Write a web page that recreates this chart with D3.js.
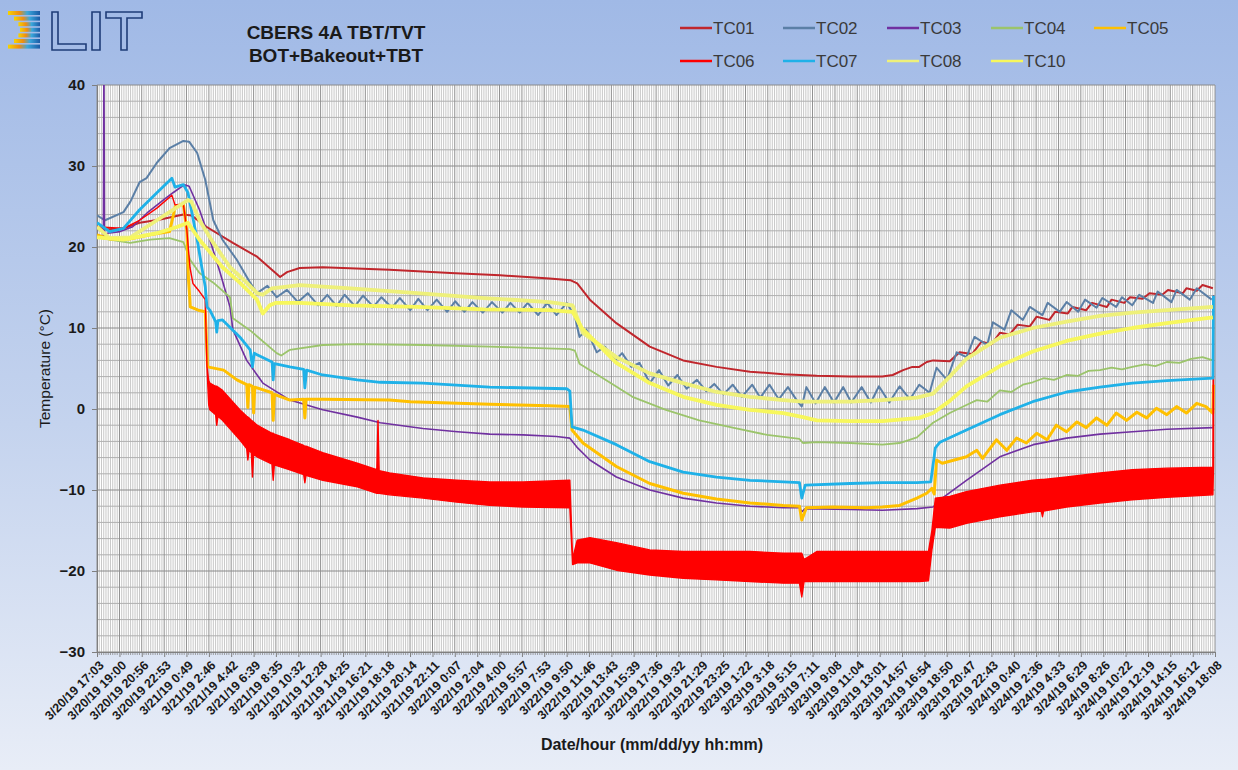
<!DOCTYPE html>
<html>
<head>
<meta charset="utf-8">
<script src="https://cdn.jsdelivr.net/npm/d3@7"></script>
<style>
body{margin:0;background:#fff;}
svg text{font-family:"Liberation Sans",Arial,sans-serif;}
</style>
</head>
<body>
<div id="chart"></div>
<script>
// category axis labels (as printed under the chart)
var tickLabels = ["3/20/19 17:03","3/20/19 19:00","3/20/19 20:56","3/20/19 22:53",
  "3/21/19 0:49","3/21/19 2:46","3/21/19 4:42","3/21/19 6:39","3/21/19 8:35","3/21/19 10:32",
  "3/21/19 12:28","3/21/19 14:25","3/21/19 16:21","3/21/19 18:18","3/21/19 20:14","3/21/19 22:11",
  "3/22/19 0:07","3/22/19 2:04","3/22/19 4:00","3/22/19 5:57","3/22/19 7:53","3/22/19 9:50",
  "3/22/19 11:46","3/22/19 13:43","3/22/19 15:39","3/22/19 17:36","3/22/19 19:32","3/22/19 21:29",
  "3/22/19 23:25","3/23/19 1:22","3/23/19 3:18","3/23/19 5:15","3/23/19 7:11","3/23/19 9:08",
  "3/23/19 11:04","3/23/19 13:01","3/23/19 14:57","3/23/19 16:54","3/23/19 18:50","3/23/19 20:47",
  "3/23/19 22:43","3/24/19 0:40","3/24/19 2:36","3/24/19 4:33","3/24/19 6:29","3/24/19 8:26",
  "3/24/19 10:22","3/24/19 12:19","3/24/19 14:15","3/24/19 16:12","3/24/19 18:08"];

var yTicks = [-30,-20,-10,0,10,20,30,40];
var seriesNames = ["TC01","TC02","TC03","TC04","TC05","TC06","TC07","TC08","TC10"];

// readings: [hours since 3/20/19 17:03, temperature in C]
var tc01 = [[0,22.4],[0.9,22.2],[2.3,22.3],[3.7,23.0],[5.5,23.4],[7.5,24.0],[8.2,23.9],[9.5,22.5],[11.8,20.5],
  [13.9,18.8],[15.9,16.3],[16.5,16.9],[17.6,17.4],[19.6,17.5],[25.4,17.2],[30.7,16.8],[35.0,16.5],[39.3,16.1],
  [41.1,15.9],[41.7,15.5],[42.8,13.5],[45.1,10.6],[48.0,7.7],[50.9,6.0],[53.8,5.2],[56.7,4.6],[59.6,4.3],
  [62.5,4.1],[65.4,4.0],[68.2,4.0],[69.1,4.2],[70.0,4.8],[70.8,5.2],[71.4,5.2],[72.05,5.8],[72.6,6.0],
  [74.05,5.9],[74.9,7.0],[76.0,6.8],[76.8,8.3],[77.7,8.0],[78.4,9.4],[79.25,9.2],[79.95,10.4],[81.0,10.2],
  [81.6,11.4],[82.7,11.0],[83.2,12.0],[84.3,11.8],[84.7,12.6],[85.9,12.2],[86.4,13.1],[87.7,12.6],[88.1,13.5],
  [89.2,13.1],[89.7,13.8],[90.8,13.6],[91.4,14.3],[92.5,14.1],[93.0,14.7],[94.3,14.3],[94.6,14.9],[95.5,14.6],
  [96.0,15.3],[96.9,14.9]];

var tc02 = [[0,23.9],[0.7,23.3],[2.3,24.3],[2.9,25.6],[3.7,28.0],[4.3,28.5],[5.2,30.4],[6.3,32.2],[7.5,33.1],
  [8.0,33.0],[8.7,31.6],[9.4,28.3],[10.1,23.3],[10.9,20.9],[12.15,18.4],[13.3,15.6],[13.9,14.3],[14.8,15.2],
  [15.6,13.8],[16.5,14.7],[17.45,13.2],[18.3,14.3],[19.2,12.8],[20.0,14.1],[20.8,12.7],[21.5,14.1],[22.4,12.7],
  [23.1,14.0],[24.0,12.6],[24.7,13.8],[25.6,12.5],[26.3,13.7],[27.2,12.2],[27.9,13.6],[28.7,12.2],[29.5,13.5],
  [30.4,12.0],[31.1,13.3],[31.9,12.0],[32.6,13.2],[33.5,11.9],[34.3,13.2],[35.2,11.9],[35.9,13.1],[36.7,11.9],
  [37.4,13.1],[38.3,11.6],[39.1,13.1],[39.9,11.6],[40.8,13.1],[41.5,11.4],[41.9,8.9],[42.5,9.8],[43.4,7.0],
  [44.1,7.7],[45.0,6.0],[45.6,6.9],[46.4,5.2],[47.1,5.7],[48.0,3.2],[48.8,4.8],[49.6,2.9],[50.4,4.2],[51.2,2.5],
  [52.1,3.6],[52.9,2.2],[53.6,3.1],[54.4,1.8],[55.2,3.0],[56.0,1.5],[56.9,3.0],[57.6,1.4],[58.4,3.0],[59.2,1.2],
  [60.0,2.7],[60.8,1.0],[61.2,0.3],[61.6,2.7],[62.4,0.7],[63.2,2.7],[64.0,0.8],[64.8,2.7],[65.5,0.8],[66.4,2.7],
  [67.2,0.8],[67.9,2.8],[68.8,0.8],[69.7,2.8],[70.6,1.2],[71.4,3.0],[72.3,2.0],[72.9,5.1],[73.8,3.6],[74.65,7.0],
  [75.5,6.4],[76.2,8.9],[77.3,7.9],[77.8,10.7],[78.8,9.8],[79.4,12.2],[80.4,11.0],[81.0,12.6],[82.1,11.6],
  [82.55,13.1],[83.6,12.0],[84.2,13.2],[85.2,12.0],[85.8,13.5],[86.8,12.5],[87.3,13.7],[88.5,12.6],[89.0,13.8],
  [89.9,12.8],[90.5,14.1],[91.7,13.1],[92.1,14.5],[93.3,13.2],[93.75,14.7],[94.9,13.5],[95.5,14.9],[96.8,13.5]];

var tc03 = [[0,21.5],[0.55,21.3],[0.6,45],[0.65,21.2],[0.9,21.7],[2.0,21.9],[3.1,22.5],[4.35,24.2],[5.75,25.8],
  [6.6,26.7],[7.6,27.7],[8.0,27.5],[8.9,24.6],[9.8,20.9],[10.7,16.8],[11.55,12.6],[11.8,9.8],[13.0,6.0],
  [14.4,3.2],[16.75,1.1],[19.6,-0.1],[22.6,-1.0],[24.6,-1.7],[28.3,-2.4],[31.3,-2.8],[34.1,-3.1],[37.0,-3.2],
  [39.9,-3.4],[41.06,-3.6],[41.67,-4.7],[42.8,-6.3],[45.1,-8.4],[48.0,-10.0],[50.9,-11.0],[53.8,-11.6],
  [56.7,-12.0],[59.6,-12.2],[61.0,-12.2],[61.2,-12.7],[61.5,-12.3],[65.4,-12.4],[68.2,-12.5],[71.2,-12.3],
  [72.6,-12.1],[73.4,-11.0],[75.5,-8.8],[78.4,-5.9],[81.3,-4.4],[84.2,-3.6],[87.1,-3.1],[89.9,-2.8],
  [92.9,-2.5],[96.9,-2.3]];

var tc04 = [[0,21.2],[1.1,20.9],[2.9,20.5],[4.6,20.9],[6.3,21.1],[7.5,20.6],[8.1,18.4],[8.9,16.8],[10.1,15.6],
  [11.55,13.8],[11.8,11.2],[13.3,9.7],[15.6,6.9],[16.0,6.6],[16.75,7.3],[19.6,7.9],[22.6,8.0],[28.3,7.9],
  [34.1,7.7],[41.06,7.4],[41.5,7.2],[41.9,5.6],[43.7,4.0],[46.5,1.5],[49.4,-0.1],[52.3,-1.4],[55.2,-2.3],
  [58.2,-3.2],[61.0,-3.7],[61.3,-4.2],[62.5,-4.1],[65.4,-4.2],[68.2,-4.4],[69.7,-4.2],[71.2,-3.5],[72.6,-1.7],
  [74.05,-0.5],[75.5,0.5],[76.4,1.1],[77.3,0.9],[78.4,2.3],[79.4,2.1],[80.4,3.0],[81.25,3.3],[82.2,3.8],
  [83.1,3.6],[84.2,4.2],[85.2,4.1],[86.1,4.7],[87.1,4.8],[88.1,5.1],[89.0,4.9],[89.9,5.2],[91.0,5.5],
  [91.9,5.3],[92.9,5.8],[94.0,5.7],[95.0,6.2],[96.0,6.4],[96.9,6.0]];

var tc05 = [[0,21.5],[1.1,21.0],[2.9,21.0],[4.6,21.5],[6.3,21.9],[6.8,25.0],[7.5,25.3],[7.8,22.0],[7.95,15.9],
  [8.1,12.6],[8.8,12.2],[9.4,12.0],[9.6,5.2],[11.0,4.8],[12.15,3.6],[13.0,3.0],[13.1,0.2],[13.2,3.0],[13.5,2.8],
  [13.6,-0.5],[13.7,2.7],[15.2,2.0],[15.3,-1.4],[15.4,1.8],[16.75,1.1],[17.95,1.2],[18.05,-1.1],[18.15,1.2],
  [19.6,1.2],[25.4,1.1],[27.2,0.9],[34.1,0.6],[39.3,0.4],[41.06,0.3],[41.25,-2.6],[42.2,-4.2],[45.1,-7.1],
  [48.0,-9.2],[50.9,-10.4],[53.8,-11.1],[56.7,-11.6],[59.6,-11.9],[61.0,-12.0],[61.2,-13.7],[61.6,-12.2],
  [63.9,-12.1],[66.8,-12.2],[68.2,-12.1],[69.7,-11.9],[71.2,-11.0],[72.05,-10.4],[72.5,-9.8],[72.7,-10.5],
  [72.9,-6.3],[73.4,-6.7],[75.5,-5.9],[76.4,-5.1],[76.9,-6.1],[78.1,-3.8],[79.0,-5.1],[79.85,-3.6],[80.7,-4.2],
  [81.6,-3.0],[82.5,-3.8],[83.3,-2.0],[84.2,-2.8],[85.1,-1.6],[85.9,-2.3],[86.8,-1.1],[87.7,-2.0],[88.5,-0.5],
  [89.4,-1.4],[90.3,-0.4],[91.15,-1.1],[92.0,0.1],[92.9,-0.7],[93.75,0.3],[94.6,-0.5],[95.5,0.7],[96.3,0.3],
  [96.9,-0.5],[96.95,3.0]];

// TC06 oscillates too fast to read point by point: [hours, band low, band high]
var tc06Band = [[0,22.5,22.5],[2.3,22.3,22.3],[3.7,23.3,23.3],[5.2,24.8,24.8],[6.5,26.4,26.4],[6.77,25.2,25.2],
  [7.5,25.3,25.3],[7.8,22.1,22.1],[8.07,17.5,17.5],[8.33,15.5,15.5],[8.9,14.5,14.5],[9.4,13.5,13.5],
  [9.55,5.2,5.2],[9.7,0.5,3.5],[9.8,-0.1,3.2],[10.3,-0.7,2.8],[10.4,-2.0,2.8],[10.5,-0.9,2.7],[10.9,-1.4,2.3],
  [12.4,-3.8,-0.1],[13.0,-4.9,-0.9],[13.1,-6.3,-1.0],[13.2,-5.1,-1.1],[13.4,-5.4,-1.4],[13.5,-8.4,-1.5],
  [13.6,-5.6,-1.6],[13.9,-5.9,-2.0],[15.2,-6.8,-3.0],[15.3,-8.8,-3.0],[15.4,-6.9,-3.1],[16.75,-7.5,-3.8],
  [17.95,-8.1,-4.5],[18.05,-9.1,-4.6],[18.15,-8.2,-4.6],[19.6,-8.8,-5.4],[22.6,-9.6,-6.7],[24.3,-10.4,-7.5],
  [24.4,-10.4,-1.4],[24.5,-10.4,-7.6],[25.4,-10.6,-7.9],[28.3,-11.0,-8.5],[31.25,-11.5,-8.8],[34.1,-11.9,-9.0],
  [37.0,-12.1,-9.0],[41.06,-12.2,-8.8],[41.3,-19.2,-18.5],[41.7,-19.0,-16.2],[42.8,-19.0,-15.9],
  [45.1,-19.9,-16.5],[48.0,-20.5,-17.4],[50.9,-20.9,-17.6],[53.8,-21.1,-17.6],[56.7,-21.3,-17.6],
  [59.6,-21.5,-17.8],[61.0,-21.5,-17.8],[61.2,-23.2,-17.8],[61.4,-21.3,-18.6],[62.5,-21.3,-17.6],
  [65.4,-21.3,-17.6],[68.2,-21.3,-17.6],[71.4,-21.3,-17.6],[72.2,-21.2,-17.6],[72.5,-17.4,-15.0],
  [72.8,-14.6,-11.0],[74.05,-14.7,-10.8],[75.5,-14.1,-10.2],[78.4,-13.3,-9.4],[81.25,-12.7,-8.8],
  [82.0,-12.6,-8.7],[82.1,-13.3,-8.7],[82.2,-12.6,-8.7],[84.2,-12.1,-8.4],[87.1,-11.6,-7.9],[89.9,-11.2,-7.5],
  [92.9,-10.9,-7.3],[96.9,-10.6,-7.2],[96.95,-7.2,14.0]];

var tc07 = [[0,23.0],[1.1,21.9],[2.3,22.3],[3.7,24.6],[5.2,26.7],[6.5,28.5],[6.77,27.4],[7.5,27.7],[7.9,26.7],
  [8.7,20.9],[9.1,17.5],[9.4,15.1],[9.55,12.6],[9.8,12.2],[10.3,10.8],[10.4,9.5],[10.5,10.9],[10.9,11.0],
  [12.4,8.9],[13.3,7.3],[13.5,5.2],[13.65,6.9],[13.9,6.7],[15.2,5.8],[15.3,3.6],[15.4,5.6],[16.75,5.2],
  [17.95,4.9],[18.05,2.6],[18.2,4.8],[19.6,4.2],[22.6,3.6],[24.6,3.3],[28.3,3.2],[34.1,2.7],[40.8,2.5],
  [41.06,2.2],[41.25,-2.2],[42.2,-2.6],[45.1,-4.4],[48.0,-6.5],[50.9,-7.8],[53.8,-8.4],[56.7,-8.8],[59.6,-9.0],
  [61.0,-9.1],[61.2,-11.0],[61.5,-9.4],[65.4,-9.2],[68.2,-9.1],[71.2,-9.1],[72.4,-9.0],[72.8,-4.8],[73.2,-4.1],
  [75.5,-2.6],[78.4,-0.7],[81.25,0.9],[84.2,2.1],[87.1,2.7],[89.9,3.2],[92.9,3.5],[96.9,3.8],[96.95,14.0]];

var tc08 = [[0,22.5],[1.1,21.1],[2.9,21.2],[5.2,23.3],[6.5,24.5],[7.9,25.8],[8.2,25.6],[8.9,23.3],[10.1,20.5],
  [11.55,17.5],[13.0,15.6],[13.9,14.3],[14.4,14.1],[15.2,14.9],[17.6,15.3],[22.0,14.9],[27.8,14.3],[33.6,13.7],
  [39.3,13.2],[41.3,12.8],[42.2,9.4],[45.1,6.4],[48.0,4.4],[50.9,3.2],[53.8,2.1],[56.7,1.5],[59.6,1.1],
  [61.3,0.9],[65.4,0.9],[68.2,1.1],[71.2,1.4],[72.6,1.9],[74.05,4.0],[75.5,6.2],[78.4,8.8],[81.25,10.0],
  [84.2,10.8],[87.1,11.5],[89.9,11.9],[92.9,12.2],[96.9,12.6]];

var tc10 = [[0,21.2],[2.3,20.9],[5.2,21.7],[7.0,22.5],[7.9,23.0],[8.9,20.9],[10.9,17.5],[12.4,15.6],[13.9,13.5],
  [14.4,11.8],[15.0,12.8],[15.5,13.1],[17.6,13.1],[22.0,12.8],[27.8,12.6],[33.6,12.3],[39.3,12.2],[41.3,12.0],
  [42.1,10.0],[45.1,5.7],[48.0,3.2],[50.9,1.5],[53.8,0.5],[56.7,-0.1],[59.6,-0.5],[61.3,-1.0],[62.5,-1.4],
  [65.4,-1.5],[68.2,-1.5],[71.4,-1.1],[72.6,-0.5],[74.05,1.0],[75.5,2.8],[78.4,5.3],[81.25,7.1],[84.2,8.4],
  [87.1,9.3],[89.9,10.0],[92.9,10.6],[96.9,11.3]];

var W = 1238, H = 770;
var plotL = 97, plotR = 1215, plotT = 85, plotB = 652;

var parse = d3.timeParse("%m/%d/%y %H:%M");
var t0 = parse(tickLabels[0]);
var tickHours = tickLabels.map(function (s) {return (parse(s) - t0) / 3600000;});

var x = d3.scaleLinear().domain([0, tickHours[tickHours.length - 1]]).range([plotL, plotR]);
var y = d3.scaleLinear().domain([-30, 40]).range([plotB, plotT]);

var svg = d3.select("#chart").append("svg")
    .attr("width", W)
    .attr("height", H);

var defs = svg.append("defs");
var bg = defs.append("linearGradient").attr("id", "bg")
    .attr("x1", 0).attr("y1", 0).attr("x2", 0).attr("y2", 1);
bg.append("stop").attr("offset", "0").attr("stop-color", "#a0b9e6");
bg.append("stop").attr("offset", "0.55").attr("stop-color", "#c4d3ee");
bg.append("stop").attr("offset", "1").attr("stop-color", "#e8edf7");

var logoGrad = defs.append("linearGradient").attr("id", "logoGrad")
    .attr("x1", 0).attr("y1", 0).attr("x2", 1).attr("y2", 0);
logoGrad.append("stop").attr("offset", "0").attr("stop-color", "#f6d400");
logoGrad.append("stop").attr("offset", "0.35").attr("stop-color", "#f08c10");
logoGrad.append("stop").attr("offset", "0.6").attr("stop-color", "#3aa8dc");
logoGrad.append("stop").attr("offset", "1").attr("stop-color", "#1b5aa6");

defs.append("clipPath").attr("id", "plotClip")
    .append("rect")
    .attr("x", plotL).attr("y", plotT)
    .attr("width", plotR - plotL).attr("height", plotB - plotT);

svg.append("rect").attr("width", W).attr("height", H).attr("fill", "url(#bg)");

//logo
var logo = svg.append("g").attr("class", "logo");
d3.range(7).forEach(function (k) {
    var lx = 8 + 12 * Math.sin(Math.PI * k / 6);
    logo.append("rect")
        .attr("x", lx).attr("y", 11 + k * 5.6)
        .attr("width", 40 - lx).attr("height", 4)
        .attr("fill", "url(#logoGrad)");
});
logo.selectAll("path.letter")
    .data(["M52,12V50H86V44H58V12Z", "M92,12H100V50H92Z", "M106,12H142V18H127V50H121V18H106Z"])
    .enter().append("path")
    .attr("class", "letter")
    .attr("d", function (d) {return d;})
    .attr("fill", "none")
    .attr("stroke", "#1e3c78")
    .attr("stroke-width", 1.6);

//title
var title = svg.append("g")
    .attr("font-weight", "bold").attr("font-size", "19px")
    .attr("fill", "#1a1a1a").attr("text-anchor", "middle");
title.append("text").attr("x", 336).attr("y", 39).text("CBERS 4A TBT/TVT");
title.append("text").attr("x", 336).attr("y", 62).text("BOT+Bakeout+TBT");

//plot area and grid
svg.append("rect")
    .attr("x", plotL).attr("y", plotT)
    .attr("width", plotR - plotL).attr("height", plotB - plotT)
    .attr("fill", "#ffffff");

var minorX = [];
for (var i = 0; i < tickHours.length - 1; i++) {
    for (var k = 1; k < 10; k++) {
        minorX.push(tickHours[i] + (tickHours[i + 1] - tickHours[i]) * k / 10);
    }
}
var grid = svg.append("g").attr("class", "grid");
grid.selectAll(".vminor").data(minorX).enter().append("line")
    .attr("x1", function (d) {return x(d);}).attr("x2", function (d) {return x(d);})
    .attr("y1", plotT).attr("y2", plotB)
    .attr("stroke", "#c2c2c2").attr("stroke-width", 0.9);
grid.selectAll(".hline").data(d3.range(-30, 41, 2)).enter().append("line")
    .attr("x1", plotL).attr("x2", plotR)
    .attr("y1", function (d) {return y(d);}).attr("y2", function (d) {return y(d);})
    .attr("stroke", function (d) {return d % 10 === 0 ? "#8a8a8a" : "#b0b0b0";})
    .attr("stroke-width", 1);
grid.selectAll(".vmajor").data(tickHours).enter().append("line")
    .attr("x1", function (d) {return x(d);}).attr("x2", function (d) {return x(d);})
    .attr("y1", plotT).attr("y2", plotB)
    .attr("stroke", "#8f8f8f").attr("stroke-width", 1);

//axes
var yAxis = svg.append("g")
    .attr("transform", "translate(" + plotL + ",0)")
    .call(d3.axisLeft(y).tickValues(yTicks).tickSize(5).tickPadding(7).tickFormat(d3.format("d")));
yAxis.select(".domain").attr("stroke", "#7f7f7f");
yAxis.selectAll(".tick line").attr("stroke", "#7f7f7f");
yAxis.selectAll("text")
    .attr("font-family", "Liberation Sans, Arial, sans-serif")
    .attr("font-size", "15px").attr("font-weight", "bold").attr("fill", "#1a1a1a");

svg.append("g")
    .attr("transform", "translate(0," + plotB + ")")
    .selectAll("line").data(minorX).enter().append("line")
    .attr("x1", function (d) {return x(d);}).attr("x2", function (d) {return x(d);})
    .attr("y1", 0).attr("y2", 3)
    .attr("stroke", "#8a8a8a").attr("stroke-width", 0.8);

var xAxis = svg.append("g")
    .attr("transform", "translate(0," + plotB + ")")
    .call(d3.axisBottom(x).tickValues(tickHours).tickSize(5)
        .tickFormat(function (d, i) {return tickLabels[i];}));
xAxis.select(".domain").attr("stroke", "#7f7f7f");
xAxis.selectAll(".tick line").attr("stroke", "#7f7f7f");
xAxis.selectAll("text")
    .attr("font-family", "Liberation Sans, Arial, sans-serif")
    .attr("font-size", "12.5px").attr("font-weight", "bold").attr("fill", "#1a1a1a")
    .attr("text-anchor", "end")
    .attr("x", 0).attr("y", 0).attr("dy", "0.35em")
    .attr("transform", "translate(4,11) rotate(-45)");

svg.append("text")
    .attr("transform", "translate(50," + ((plotT + plotB) / 2) + ") rotate(-90)")
    .attr("text-anchor", "middle")
    .attr("font-size", "15.5px").attr("fill", "#1a1a1a")
    .text("Temperature (°C)");
svg.append("text")
    .attr("x", 652).attr("y", 750)
    .attr("text-anchor", "middle")
    .attr("font-size", "16px").attr("font-weight", "bold").attr("fill", "#1a1a1a")
    .text("Date/hour (mm/dd/yy hh:mm)");

//series
var colors = {TC01: "#c0262c", TC02: "#5b7fa6", TC03: "#7030a0", TC04: "#9bc46b", TC05: "#ffc000",
    TC06: "#ff0000", TC07: "#1fb1e8", TC08: "#eef07a", TC10: "#f7f75c"};
var widths = {TC01: 2, TC02: 2, TC03: 1.6, TC04: 1.8, TC05: 3, TC06: 1.4, TC07: 2.8, TC08: 3.8, TC10: 3.8};
var lineData = {TC01: tc01, TC02: tc02, TC03: tc03, TC04: tc04, TC05: tc05, TC07: tc07, TC08: tc08, TC10: tc10};

var line = d3.line()
    .x(function (d) {return x(d[0]);})
    .y(function (d) {return y(d[1]);});
var band = d3.area()
    .x(function (d) {return x(d[0]);})
    .y0(function (d) {return y(d[1]);})
    .y1(function (d) {return y(d[2]);});

var plot = svg.append("g").attr("clip-path", "url(#plotClip)");
seriesNames.forEach(function (name) {
    if (name === "TC06") {
        plot.append("path")
            .datum(tc06Band)
            .attr("d", band)
            .attr("fill", colors.TC06)
            .attr("stroke", colors.TC06)
            .attr("stroke-width", widths.TC06)
            .attr("stroke-linejoin", "round");
    } else {
        plot.append("path")
            .datum(lineData[name])
            .attr("d", line)
            .attr("fill", "none")
            .attr("stroke", colors[name])
            .attr("stroke-width", widths[name])
            .attr("stroke-linejoin", "round");
    }
});

//legend
var legendX = [680, 783, 887, 991, 1094];
var legend = svg.append("g").attr("class", "legend");
var items = legend.selectAll("g").data(seriesNames).enter().append("g")
    .attr("transform", function (d, i) {
        return "translate(" + legendX[i % 5] + "," + (i < 5 ? 28 : 61) + ")";
    });
items.append("line")
    .attr("x1", 0).attr("x2", 32).attr("y1", 0).attr("y2", 0)
    .attr("stroke", function (d) {return colors[d];})
    .attr("stroke-width", 2.5);
items.append("text")
    .attr("x", 33).attr("y", 0).attr("dy", "0.35em")
    .attr("font-size", "17px").attr("fill", "#3a3a3a")
    .text(function (d) {return d;});
</script>
</body>
</html>
